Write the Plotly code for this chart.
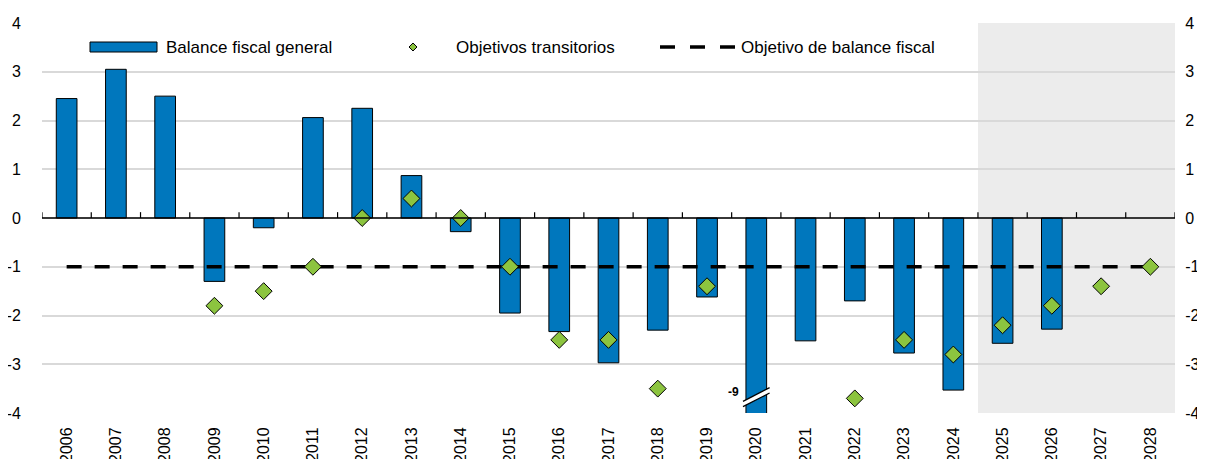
import plotly.graph_objects as go

years = list(range(2006, 2029))
balance = [2.45, 3.05, 2.5, -1.3, -0.2, 2.06, 2.25, 0.87, -0.28, -1.95, -2.33, -2.97, -2.3,
           -1.62, -9.0, -2.52, -1.7, -2.77, -3.53, -2.57, -2.28, None, None]
targets = [None, None, None, -1.8, -1.5, -1.0, 0.0, 0.4, 0.0, -1.0, -2.5, -2.5, -3.5,
           -1.4, None, None, -3.7, -2.5, -2.8, -2.2, -1.8, -1.4, -1.0]
objective = [-1.0] * len(years)
ytick_vals = [-4, -3, -2, -1, 0, 1, 2, 3, 4]
ytick_text = ["-4", "-3", "-2", "-1", "0", "1", "2", "3", "4"]
projection_start = 2025
break_year = 2020
break_label = "-9"

FONT = "Liberation Sans, Arial"
BLUE = "#0077bd"
GREEN = "#8cc43f"
YMIN, YMAX = -4, 4
XMIN, XMAX = years[0] - 0.5, years[-1] + 0.5

# page body has an 8px default margin: work in div coordinates
OFF = 8
W, H = 1205 - OFF, 459 - OFF
L, R, T, B = 42 - OFF, 1175 - OFF, 23 - OFF, 413 - OFF

fig = go.Figure()

fig.add_trace(go.Bar(x=years, y=balance, width=0.42, marker=dict(color=BLUE, line=dict(color="black", width=1)),
                     name="Balance fiscal general", showlegend=False))
fig.add_trace(go.Scatter(x=years, y=objective, mode="lines", line=dict(color="black", width=3.5, dash="15px,13px"),
                         name="Objetivo de balance fiscal", showlegend=False))
fig.add_trace(go.Scatter(x=years, y=targets, mode="markers",
                         marker=dict(symbol="diamond", size=13, color=GREEN, line=dict(color="black", width=1)),
                         name="Objetivos transitorios", showlegend=False))
# invisible trace for right axis
fig.add_trace(go.Scatter(x=[years[0]], y=[0], yaxis="y2", mode="markers", marker=dict(opacity=0),
                         showlegend=False, hoverinfo="skip"))

shapes = []
# projection shading
shapes.append(dict(type="rect", xref="x", yref="y", x0=projection_start - 0.5, x1=XMAX, y0=YMIN, y1=YMAX,
                   fillcolor="#ececec", line=dict(width=0), layer="below"))
# zero line
shapes.append(dict(type="line", xref="x", yref="y", x0=XMIN, x1=XMAX, y0=0, y1=0,
                   line=dict(color="black", width=1.5), layer="above"))
for k in range(len(years) + 1):
    xb = XMIN + k
    shapes.append(dict(type="line", xref="x", yref="y", x0=xb, x1=xb, y0=0, y1=0.12,
                       line=dict(color="black", width=1.2), layer="above"))
# axis break at 2020
hw = 0.27
by = -3.62
dy = 0.28
gap = 0.11
shapes.append(dict(type="path", xref="x", yref="y",
                   path=f"M {break_year-hw} {by-dy/2-gap} L {break_year+hw} {by+dy/2-gap} L {break_year+hw} {by+dy/2} L {break_year-hw} {by-dy/2} Z",
                   fillcolor="white", line=dict(width=0), layer="above"))
shapes.append(dict(type="line", xref="x", yref="y", x0=break_year-hw, x1=break_year+hw, y0=by-dy/2, y1=by+dy/2,
                   line=dict(color="black", width=1.3), layer="above"))
shapes.append(dict(type="line", xref="x", yref="y", x0=break_year-hw, x1=break_year+hw, y0=by-dy/2-gap, y1=by+dy/2-gap,
                   line=dict(color="black", width=1.3), layer="above"))

# custom legend (paper coords, from window pixel positions)
def px(x):
    return (x - OFF - L) / (R - L)
def py(y):
    return (B - (y - OFF)) / (B - T)
ly = 47
shapes.append(dict(type="rect", xref="paper", yref="paper", x0=px(90), x1=px(157), y0=py(52), y1=py(42),
                   fillcolor=BLUE, line=dict(color="black", width=1)))
shapes.append(dict(type="path", xref="paper", yref="paper",
                   path=f"M {px(409)} {py(ly)} L {px(413)} {py(ly-4)} L {px(417)} {py(ly)} L {px(413)} {py(ly+4)} Z",
                   fillcolor=GREEN, line=dict(color="black", width=1)))
for a, b in [(660, 675), (690, 705), (720, 735)]:
    shapes.append(dict(type="line", xref="paper", yref="paper", x0=px(a), x1=px(b), y0=py(ly), y1=py(ly),
                       line=dict(color="black", width=3.5)))

annotations = [
    dict(text="Balance fiscal general", x=px(164), y=py(ly), xref="paper", yref="paper", xanchor="left",
         yanchor="middle", showarrow=False, font=dict(size=17, color="black", family=FONT)),
    dict(text="Objetivos transitorios", x=px(454), y=py(ly), xref="paper", yref="paper", xanchor="left",
         yanchor="middle", showarrow=False, font=dict(size=17, color="black", family=FONT)),
    dict(text="Objetivo de balance fiscal", x=px(739), y=py(ly), xref="paper", yref="paper", xanchor="left",
         yanchor="middle", showarrow=False, font=dict(size=17, color="black", family=FONT)),
    dict(text=f"<b>{break_label}</b>", x=break_year - 0.32, y=by + 0.05, xref="x", yref="y", xanchor="right",
         yanchor="middle", showarrow=False, font=dict(size=12, color="black", family=FONT)),
]

fig.update_layout(
    width=W, height=H,
    margin=dict(l=L, r=W - R, t=T, b=H - B, autoexpand=False),
    paper_bgcolor="white", plot_bgcolor="white",
    showlegend=False,
    font=dict(family=FONT, size=16, color="black"),
    shapes=shapes,
    annotations=annotations,
    xaxis=dict(range=[XMIN, XMAX], tickmode="array", tickvals=years, ticktext=[str(y) for y in years],
               tickangle=-90, showgrid=False, zeroline=False, showline=False, automargin=False,
               ticks="outside", ticklen=7, tickcolor="rgba(0,0,0,0)"),
    yaxis=dict(range=[YMIN, YMAX], tickmode="array", tickvals=ytick_vals, ticktext=ytick_text,
               showgrid=True, gridcolor="#d9d9d9", gridwidth=1.5, automargin=False,
               zeroline=False, showline=False, ticks="outside", ticklen=17, tickcolor="rgba(0,0,0,0)"),
    yaxis2=dict(range=[YMIN, YMAX], tickmode="array", tickvals=ytick_vals, ticktext=ytick_text,
                overlaying="y", side="right", showgrid=False, automargin=False,
                zeroline=False, showline=False, ticks="outside", ticklen=6, tickcolor="rgba(0,0,0,0)"),
)

fig.write_html("out.html")
